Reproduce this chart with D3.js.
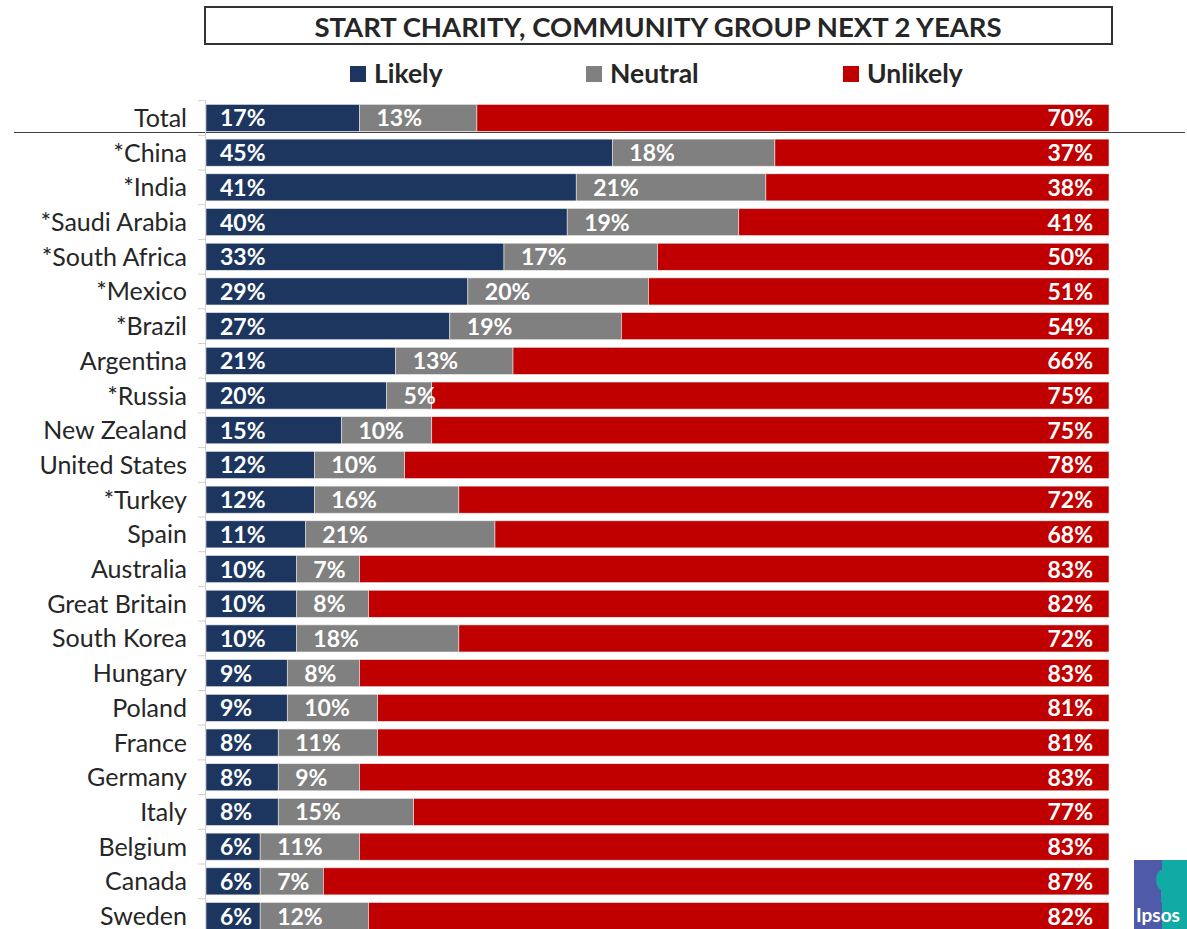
<!DOCTYPE html>
<html>
<head>
<meta charset="utf-8">
<script src="https://cdn.jsdelivr.net/npm/d3@7"></script>
<style>
  body { margin: 0; background: #fff; }
  svg { display: block; font-family: Lato, "Open Sans", sans-serif; }
</style>
</head>
<body>
<svg id="chart"></svg>
<script>
const countries = ["Total", "*China", "*India", "*Saudi Arabia", "*South Africa", "*Mexico", "*Brazil",
  "Argentina", "*Russia", "New Zealand", "United States", "*Turkey", "Spain", "Australia",
  "Great Britain", "South Korea", "Hungary", "Poland", "France", "Germany", "Italy",
  "Belgium", "Canada", "Sweden"];
const likely = [17, 45, 41, 40, 33, 29, 27, 21, 20, 15, 12, 12, 11, 10, 10, 10, 9, 9, 8, 8, 8, 6, 6, 6];
const neutral = [13, 18, 21, 19, 17, 20, 19, 13, 5, 10, 10, 16, 21, 7, 8, 18, 8, 10, 11, 9, 15, 11, 7, 12];
const unlikely = [70, 37, 38, 41, 50, 51, 54, 66, 75, 75, 78, 72, 68, 83, 82, 72, 83, 81, 81, 83, 77, 83, 87, 82];
const seriesNames = ["Likely", "Neutral", "Unlikely"];
const colors = ["#1d3660", "#808080", "#c00000"];

const width = 1187, height = 929;
const svg = d3.select("#chart").attr("width", width).attr("height", height);

const rows = countries.map((c, i) => ({ country: c, Likely: likely[i], Neutral: neutral[i], Unlikely: unlikely[i] }));
const stacked = d3.stack().keys(seriesNames)(rows);

const x = d3.scaleLinear().domain([0, 100]).range([206, 1109]);
const y = d3.scaleBand().domain(countries).range([100.6, 933.4]).paddingInner(0.22).paddingOuter(0.11);

// title box
svg.append("rect")
  .attr("x", 205).attr("y", 7).attr("width", 907).attr("height", 37)
  .attr("fill", "#fff").attr("stroke", "#333").attr("stroke-width", 2);
svg.append("text")
  .attr("x", 658).attr("y", 37)
  .attr("text-anchor", "middle")
  .attr("font-size", 27.5).attr("font-weight", "bold").attr("fill", "#262626")
  .text("START CHARITY, COMMUNITY GROUP NEXT 2 YEARS");

// legend
const legendX = [350, 586, 843];
const legend = svg.append("g").selectAll("g").data(seriesNames).join("g")
  .attr("transform", (d, i) => `translate(${legendX[i]},66)`);
legend.append("rect").attr("width", 16).attr("height", 16).attr("fill", (d, i) => colors[i]);
legend.append("text").attr("x", 24).attr("y", 17)
  .attr("font-size", 26.5).attr("font-weight", "bold").attr("fill", "#262626")
  .text(d => d);

// separator under Total
svg.append("line")
  .attr("x1", 14).attr("x2", 1185).attr("y1", 132.5).attr("y2", 132.5)
  .attr("stroke", "#404040").attr("stroke-width", 1.2);

// axis
const step = y.step();
const axis = svg.append("g");
axis.append("line")
  .attr("x1", 205.5).attr("x2", 205.5).attr("y1", 100).attr("y2", height)
  .attr("stroke", "#d0d0d0");
axis.selectAll("line.tick").data(d3.range(countries.length + 1)).join("line")
  .attr("class", "tick")
  .attr("x1", 198).attr("x2", 205)
  .attr("y1", i => 100.6 + i * step).attr("y2", i => 100.6 + i * step)
  .attr("stroke", "#d0d0d0");
axis.selectAll("text").data(countries).join("text")
  .attr("x", 187).attr("y", d => y(d) + y.bandwidth() / 2 + 9)
  .attr("text-anchor", "end").attr("font-size", 25).attr("fill", "#262626")
  .text(d => d);

// bars
const layers = svg.append("g").selectAll("g").data(stacked).join("g")
  .attr("fill", (d, i) => colors[i]);
layers.selectAll("rect").data(d => d).join("rect")
  .attr("x", d => x(d[0]))
  .attr("y", d => y(d.data.country))
  .attr("width", d => x(d[1]) - x(d[0]))
  .attr("height", y.bandwidth())
  .attr("stroke", "#e8e8e8").attr("stroke-width", 0.6);

// value labels
const labels = svg.append("g").attr("font-size", 23).attr("font-weight", "bold").attr("fill", "#fff");
stacked.forEach((layer, k) => {
  labels.selectAll(null).data(layer).join("text")
    .attr("x", d => k === 2 ? x(d[1]) - 16 : x(d[0]) + (k === 0 ? 14 : 17))
    .attr("y", d => y(d.data.country) + y.bandwidth() / 2 + 8.5)
    .attr("text-anchor", k === 2 ? "end" : "start")
    .text(d => d.data[layer.key] + "%");
});

// Ipsos logo
const logo = svg.append("g").attr("transform", "translate(1134,860)");
logo.append("rect").attr("width", 53).attr("height", 69).attr("fill", "#4f5aa8");
logo.append("rect").attr("x", 28).attr("width", 25).attr("height", 69).attr("fill", "#12aaa5");
logo.append("ellipse").attr("cx", 30).attr("cy", 20).attr("rx", 8).attr("ry", 11).attr("fill", "#12aaa5");
logo.append("rect").attr("x", 27).attr("y", 28).attr("width", 5).attr("height", 14).attr("fill", "#12aaa5");
logo.append("text").attr("x", 2).attr("y", 62).attr("font-size", 19).attr("font-weight", "bold")
  .attr("fill", "#fff").text("Ipsos");
</script>
</body>
</html>
